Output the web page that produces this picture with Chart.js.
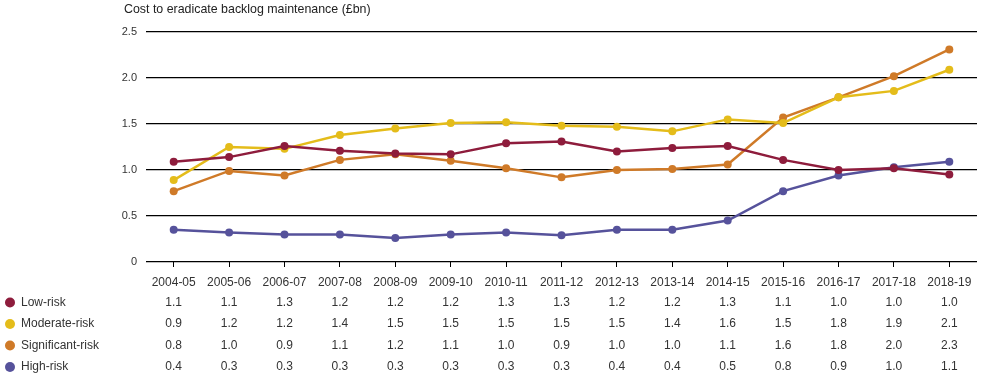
<!DOCTYPE html>
<html>
<head>
<meta charset="utf-8">
<script src="https://cdn.jsdelivr.net/npm/chart.js@4/dist/chart.umd.min.js"></script>
<style>
  html, body { margin: 0; padding: 0; background: #fff; }
  #wrap { width: 982px; height: 376px; position: relative; }
</style>
</head>
<body>
<div id="wrap"><canvas id="chart"></canvas></div>
<script>
const years = ['2004-05', '2005-06', '2006-07', '2007-08', '2008-09', '2009-10', '2010-11', '2011-12',
	'2012-13', '2013-14', '2014-15', '2015-16', '2016-17', '2017-18', '2018-19'];

// plotted values
const lowRisk = [1.09, 1.14, 1.26, 1.21, 1.18, 1.17, 1.29, 1.31, 1.20, 1.24, 1.26, 1.11, 1.00, 1.02, 0.95];
const moderateRisk = [0.89, 1.25, 1.23, 1.38, 1.45, 1.51, 1.52, 1.48, 1.47, 1.42, 1.55, 1.51, 1.79, 1.86, 2.09];
const significantRisk = [0.77, 0.99, 0.94, 1.11, 1.17, 1.10, 1.02, 0.92, 1.00, 1.01, 1.06, 1.57, 1.79, 2.02, 2.31];
const highRisk = [0.35, 0.32, 0.30, 0.30, 0.26, 0.30, 0.32, 0.29, 0.35, 0.35, 0.45, 0.77, 0.94, 1.03, 1.09];

// values printed in the table
const lowTable = ['1.1', '1.1', '1.3', '1.2', '1.2', '1.2', '1.3', '1.3', '1.2', '1.2', '1.3', '1.1', '1.0', '1.0', '1.0'];
const moderateTable = ['0.9', '1.2', '1.2', '1.4', '1.5', '1.5', '1.5', '1.5', '1.5', '1.4', '1.6', '1.5', '1.8', '1.9', '2.1'];
const significantTable = ['0.8', '1.0', '0.9', '1.1', '1.2', '1.1', '1.0', '0.9', '1.0', '1.0', '1.1', '1.6', '1.8', '2.0', '2.3'];
const highTable = ['0.4', '0.3', '0.3', '0.3', '0.3', '0.3', '0.3', '0.3', '0.4', '0.4', '0.5', '0.8', '0.9', '1.0', '1.1'];

const seriesNames = ['Low-risk', 'Moderate-risk', 'Significant-risk', 'High-risk'];
const seriesColours = ['#8e1c3c', '#e4bc1a', '#cf7a28', '#56529b'];

const textColour = '#333333';
const fontFamily = '"Liberation Sans", Arial, Helvetica, sans-serif';

const tableRows = [lowTable, moderateTable, significantTable, highTable];
const rowY = [302.5, 324, 345.5, 367];

const tablePlugin = {
	id: 'tablePlugin',
	afterDraw(chart) {
		const ctx = chart.ctx;
		const x = chart.scales.x;
		ctx.save();
		ctx.textBaseline = 'middle';
		// title
		ctx.font = '12.4px ' + fontFamily;
		ctx.fillStyle = '#222';
		ctx.textAlign = 'left';
		ctx.fillText('Cost to eradicate backlog maintenance (£bn)', 124, 10);
		ctx.font = '12px ' + fontFamily;
		tableRows.forEach((row, r) => {
			ctx.fillStyle = seriesColours[r];
			ctx.beginPath();
			ctx.arc(10, rowY[r], 5, 0, Math.PI * 2);
			ctx.fill();
			ctx.fillStyle = textColour;
			ctx.textAlign = 'left';
			ctx.fillText(seriesNames[r], 21, rowY[r]);
			ctx.textAlign = 'center';
			row.forEach((val, i) => {
				ctx.fillText(val, x.getPixelForValue(i), rowY[r]);
			});
		});
		ctx.restore();
	}
};

const allSeries = [lowRisk, moderateRisk, significantRisk, highRisk];

new Chart(document.getElementById('chart'), {
	type: 'line',
	data: {
		labels: years,
		datasets: allSeries.map((vals, i) => ({
			label: seriesNames[i],
			data: vals,
			borderColor: seriesColours[i],
			backgroundColor: seriesColours[i],
			borderWidth: 2.5,
			pointRadius: 4,
			pointBorderWidth: 0,
			tension: 0
		}))
	},
	options: {
		responsive: true,
		maintainAspectRatio: false,
		animation: false,
		layout: {
			padding: { top: 32, right: 5, left: 0, bottom: 0 }
		},
		plugins: {
			legend: { display: false },
			tooltip: { enabled: false }
		},
		scales: {
			x: {
				offset: true,
				afterFit: (scale) => { scale.height = 114; },
				grid: {
					offset: false,
					drawOnChartArea: false,
					color: '#000',
					tickLength: 5,
					lineWidth: 1
				},
				border: { display: false },
				ticks: {
					color: textColour,
					font: { family: fontFamily, size: 12 },
					padding: 8,
					maxRotation: 0,
					autoSkip: false
				}
			},
			y: {
				min: 0,
				max: 2.5,
				afterFit: (scale) => { scale.width = 146; },
				grid: {
					color: '#000',
					lineWidth: 1.3,
					drawTicks: false
				},
				border: { display: false },
				ticks: {
					stepSize: 0.5,
					color: textColour,
					font: { family: fontFamily, size: 11 },
					padding: 9,
					callback: (v) => v === 0 ? '0' : v.toFixed(1)
				}
			}
		}
	},
	plugins: [tablePlugin]
});
</script>
</body>
</html>
